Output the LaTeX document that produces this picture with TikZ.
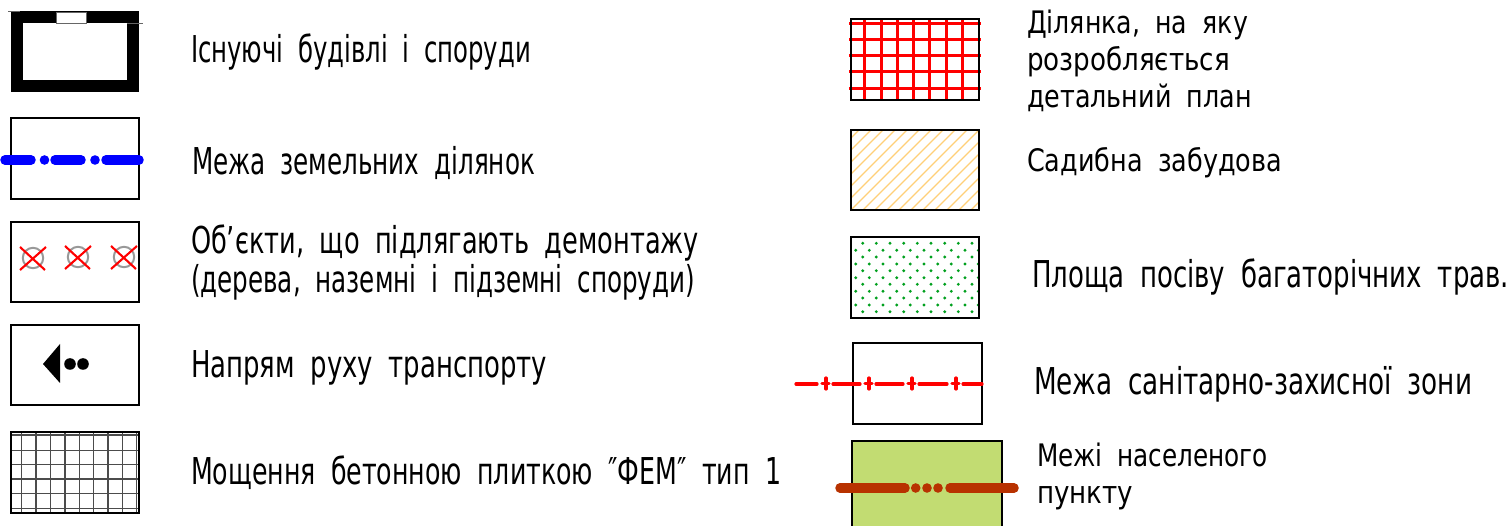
\documentclass[tikz,border=0pt]{standalone}
\usepackage{fontspec}
\usepackage{graphicx}
\setmainfont[WordSpace=1.9]{DejaVu Sans}
\definecolor{lblue}{RGB}{0,0,255}
\definecolor{lred}{RGB}{255,0,0}
\definecolor{lgreen}{RGB}{0,160,30}
\definecolor{lhatch}{RGB}{255,208,120}
\definecolor{lfield}{RGB}{194,220,114}
\definecolor{lbrown}{RGB}{184,50,0}
\tikzset{
  swatch/.style={draw=black,line width=2.2pt},
  lbl/.style={anchor=base west,inner sep=0pt,outer sep=0pt,text=black},
  blueline/.style={draw=lblue,line width=9.5pt,line cap=round},
  redline/.style={draw=lred,line width=3.2pt,line cap=round},
  brownline/.style={draw=lbrown,line width=9.5pt,line cap=round},
  gridline/.style={draw=black!70,line width=1.3pt},
  redgrid/.style={draw=lred,line width=3pt},
  treering/.style={draw=black!40,line width=2pt},
  treecross/.style={draw=lred,line width=2.1pt},
}
\newcommand{\leg}[6]{\node[lbl] (#1) at (#2,#3) {\fontsize{#5}{#5}\selectfont\resizebox{#4pt}{\height}{#6\strut}};}
\begin{document}
\begin{tikzpicture}[x=1pt,y=-1pt]
\useasboundingbox (0,0) rectangle (1510,526);
\fill[white] (0,0) rectangle (1510,526);
% swatch 1
\fill[black] (11,11) rectangle (139,92);
\fill[white] (23,23) rectangle (127,80);
\filldraw[fill=white,draw=black!60,line width=.8pt] (56,12) rectangle (86,23);
\draw[black!60,line width=.6pt] (127,23) -- (143,23);
\draw[black!60,line width=.6pt] (8,11) -- (20,11);
% swatch 2
\draw[swatch] (11,118) rectangle (139,199);
\draw[blueline] (5,160) -- (31,160);
\fill[lblue] (44.5,160) circle (4.8);
\draw[blueline] (55,160) -- (81,160);
\fill[lblue] (95,160) circle (4.8);
\draw[blueline] (106,160) -- (139,160);
% swatch 3
\draw[swatch] (11,222) rectangle (139,302);
\foreach \cx/\cy in {33/258,78/257,124/257}{
  \draw[treering] (\cx,\cy) circle (10.2);
  \draw[treecross] (\cx-13,\cy-11) -- (\cx+12,\cy+12);
  \draw[treecross] (\cx-13,\cy+12) -- (\cx+13,\cy-11);
}
% swatch 4
\draw[swatch] (11,325) rectangle (139,405);
\fill[black] (43,364) -- (60,344) -- (60,383) -- cycle;
\fill[black] (70,364) circle (5.8) (83,364) circle (5.8);
% swatch 5
\foreach \gx in {21.7,36,50.7,65,79.3,93.7,108,122.3,136.7}{\draw[gridline] (\gx,432) -- (\gx,513);}
\foreach \gy in {435,450.7,464.7,479,493.3,508.3}{\draw[gridline] (11,\gy) -- (139,\gy);}
\draw[swatch] (11,432) rectangle (139,513);
% right 1
\foreach \gx in {864.7,881,897.3,913.3,929.7,946,962.3}{\draw[redgrid] (\gx,19) -- (\gx,100);}
\foreach \gy in {23.3,39.3,55.7,72,88.3}{\draw[redgrid] (849,\gy) -- (981,\gy);}
\draw[swatch] (851,19) rectangle (979,100);
% right 2
\begin{scope}
\clip (851,130) rectangle (979,210);
\foreach \hs in {0,12,...,216}{\draw[lhatch,line width=1.2pt] (851+\hs-2,210+2) -- (851+\hs+90,210-90);}
\foreach \hs in {12,24,...,84}{\draw[lhatch,line width=1.2pt] (851,210-\hs) -- (851+100,210-\hs-100);}
\end{scope}
\draw[swatch] (851,130) rectangle (979,210);
% right 3
\begin{scope}
\clip (851,237) rectangle (979,318);
\foreach \ry in {243.3,257,270.7,284.3,298,311.7}{
  \foreach \dx in {862.7,876.3,890,903.7,917.3,931,944.7,958.3,972}{\fill[lgreen] (\dx,\ry) circle (1.6);}}
\foreach \ry in {250.3,264,277.7,291.3,305}{
  \foreach \dx in {855.7,869.3,883,896.7,910.3,924,937.7,951.3,965,978.3}{\fill[lgreen] (\dx,\ry) circle (1.6);}}
\end{scope}
\draw[swatch] (851,237) rectangle (979,318);
% right 4
\draw[swatch] (853,343) rectangle (982,424);
\draw[redline] (796,384) -- (817,384);
\draw[redline] (833,384) -- (860,384);
\draw[redline] (876,384) -- (903,384);
\draw[redline] (919,384) -- (947,384);
\draw[redline] (963,384) -- (982,384);
\foreach \px in {826,869,912,956}{
  \draw[redline] (\px,378) -- (\px,389);
  \draw[redline] (\px-4,383.5) -- (\px+3,383.5);
}
% right 5
\fill[lfield] (852,441) rectangle (1002,530);
\draw[swatch] (852,530) -- (852,441) -- (1002,441) -- (1002,530);
\draw[brownline] (840,488) -- (905,488);
\fill[lbrown] (915.7,488) circle (4.8) (927,488) circle (4.8) (938,488) circle (4.8);
\draw[brownline] (950,488) -- (1014,488);
% labels
\leg{a1}{191}{63}{340}{37}{Існуючі будівлі і споруди}
\leg{a2}{192}{175}{343}{37}{Межа земельних ділянок}
\leg{a3}{191}{254}{508}{37}{Об’єкти, що підлягають демонтажу}
\leg{a4}{191}{293}{504}{37}{(дерева, наземні і підземні споруди)}
\leg{a5}{191}{378}{356}{37}{Напрям руху транспорту}
\leg{a6}{191}{484}{590}{37}{Мощення бетонною плиткою ″ФЕМ″ тип 1}
\leg{b1}{1027}{34}{221}{31}{Ділянка, на яку}
\leg{b2}{1027}{71}{203}{31}{розробляється}
\leg{b3}{1027}{108}{225}{31}{детальний план}
\leg{b4}{1027}{172}{255}{31}{Садибна забудова}
\leg{b5}{1032}{288}{477}{37}{Площа посіву багаторічних трав.}
\leg{b6}{1034}{395}{438}{37}{Межа санітарно-захисної зони}
\leg{b7}{1037}{466}{231}{31}{Межі населеного}
\leg{b8}{1037}{503}{96}{31}{пункту}
\end{tikzpicture}
\end{document}
